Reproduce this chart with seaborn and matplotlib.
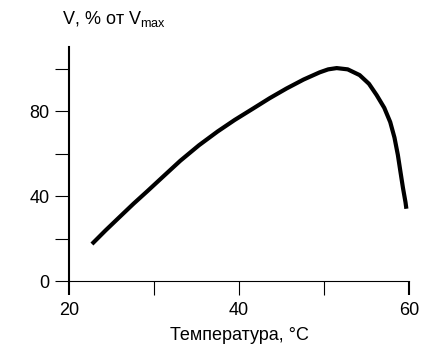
"""
Temperature dependence of reaction rate (V, % of Vmax)
"""

import pandas as pd
import matplotlib.pyplot as plt
import seaborn as sns

# Data
temperature = [22.7, 24.3, 26.0, 27.6, 29.2, 31.2, 33.1, 35.3, 37.5, 39.5,
               41.6, 43.6, 45.6, 47.6, 49.5, 50.5, 51.5, 52.8, 54.2, 55.3,
               56.2, 57.1, 57.8, 58.3, 58.7, 59.0, 59.3, 59.6, 59.7]
rate = [17.4, 23.8, 30.3, 36.4, 42.2, 49.6, 56.6, 63.9, 70.4, 75.8,
        81.0, 86.0, 90.6, 94.8, 98.2, 99.6, 100.2, 99.6, 96.9, 92.8,
        87.5, 81.5, 74.8, 67.5, 59.3, 51.5, 43.8, 37.0, 34.0]

x_ticks = [20, 30, 40, 50, 60]
x_ticklabels = ['20', '', '40', '', '60']
y_ticks = [0, 20, 40, 60, 80, 100]
y_ticklabels = ['0', '', '40', '', '80', '']

x_label = 'Температура, °C'
y_label = r'V, % от V$_{\mathrm{max}}$'

sns.set_style('white')
plt.rcParams['font.family'] = ['Liberation Sans', 'DejaVu Sans']
plt.rcParams['mathtext.fontset'] = 'custom'
plt.rcParams['mathtext.rm'] = 'Liberation Sans'
plt.rcParams['mathtext.it'] = 'Liberation Sans'
plt.rcParams['text.color'] = 'black'
plt.rcParams['axes.labelcolor'] = 'black'

df = pd.DataFrame({'t': temperature, 'v': rate})

fig = plt.figure(figsize=(4.22, 3.45), dpi=100)
ax = fig.add_axes([0.1635, 0.1855, 0.8055, 0.6775])

sns.lineplot(data=df, x='t', y='v', ax=ax, color='black', linewidth=3.0,
             estimator=None, sort=False, solid_capstyle='butt',
             solid_joinstyle='round')

ax.set_xlim(20, 60)
ax.set_ylim(0, 110)
ax.set_xticks(x_ticks)
ax.set_xticklabels(x_ticklabels)
ax.set_yticks(y_ticks)
ax.set_yticklabels(y_ticklabels)

for side in ['top', 'right']:
    ax.spines[side].set_visible(False)
ax.spines['left'].set_linewidth(1.5)
ax.spines['bottom'].set_linewidth(0.8)
ax.spines['left'].set_color('black')
ax.spines['bottom'].set_color('black')

ax.tick_params(axis='both', which='major', bottom=True, left=True,
               direction='out', length=10, width=0.8,
               color='black', labelsize=13, labelcolor='black')
ax.tick_params(axis='x', pad=5)
ax.tick_params(axis='y', pad=4)

# end ticks of the x axis are drawn heavier in the original
xt = ax.xaxis.get_major_ticks()
for t in (xt[0], xt[-1]):
    t.tick1line.set_markeredgewidth(1.5)

ax.set_xlabel(x_label, fontsize=13, labelpad=6, color='black')
ax.set_ylabel('')
fig.text(0.147, 0.93, y_label, fontsize=13, ha='left', va='baseline',
         color='black')

fig.savefig('out.png', dpi=100, facecolor='white')
plt.close(fig)
